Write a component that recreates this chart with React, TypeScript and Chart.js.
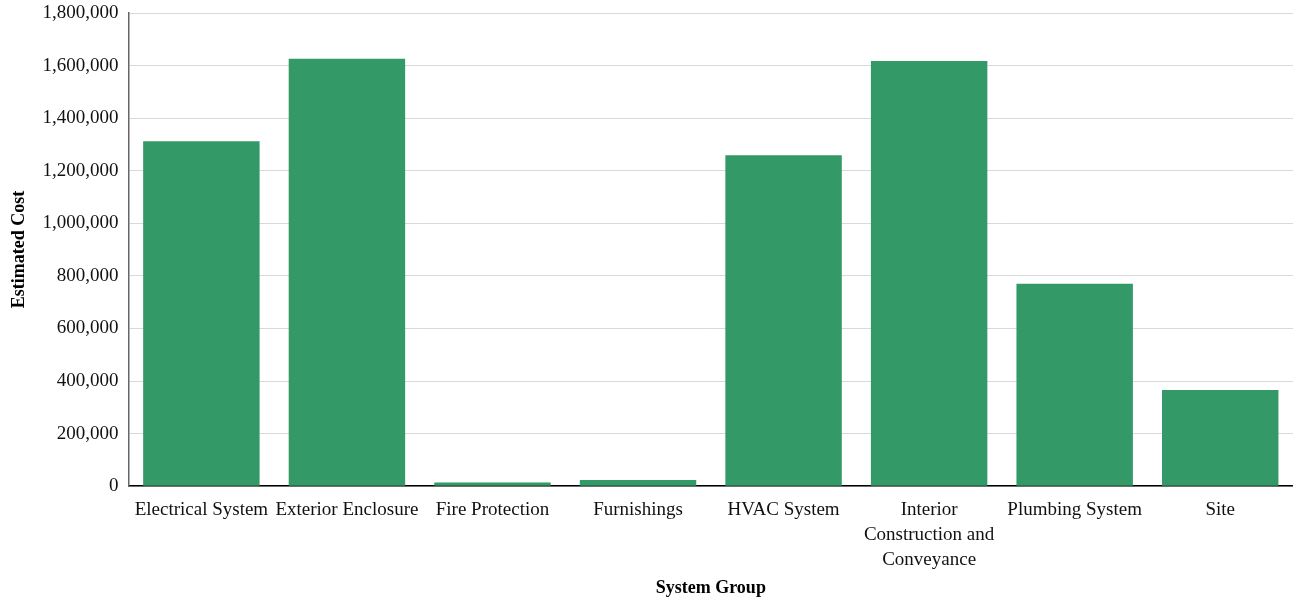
import React, { useEffect, useRef } from "react";
import { Chart, registerables } from "chart.js";

Chart.register(...registerables);

const categories: (string | string[])[] = [
  "Electrical System",
  "Exterior Enclosure",
  "Fire Protection",
  "Furnishings",
  "HVAC System",
  ["Interior", "Construction and", "Conveyance"],
  "Plumbing System",
  "Site",
];
const estimatedCost = [1312000, 1626000, 14000, 23000, 1259000, 1617000, 770000, 366000];
const yMax = 1800000;
const yStep = 200000;

const FONT = "'Liberation Serif', serif";

export default function App() {
  const ref = useRef<HTMLCanvasElement>(null);
  useEffect(() => {
    if (!ref.current) return;
    const chart = new Chart(ref.current, {
      type: "bar",
      data: {
        labels: categories,
        datasets: [
          {
            label: "Estimated Cost",
            data: estimatedCost,
            backgroundColor: "#339966",
            borderWidth: 0,
            barPercentage: 1,
            categoryPercentage: 0.8,
          },
        ],
      },
      options: {
        animation: false,
        responsive: false,
        maintainAspectRatio: false,
        layout: { padding: { top: 13, right: 0, left: 9, bottom: 0 } },
        plugins: { legend: { display: false }, tooltip: { enabled: false } },
        scales: {
          x: {
            grid: { display: false, drawTicks: false },
            border: { color: "#000000", width: 1.5 },
            ticks: {
              color: "#111111",
              font: { family: FONT, size: 19, lineHeight: 1.32 },
              maxRotation: 0,
              autoSkip: false,
              padding: 11,
            },
            title: {
              display: true,
              text: "System Group",
              color: "#000000",
              font: { family: FONT, size: 18, weight: "bold" },
              padding: { top: -6, bottom: 0 },
            },
          },
          y: {
            min: 0,
            max: yMax,
            afterFit: (scale: any) => {
              scale.paddingTop = 0;
            },
            grid: { color: "#d9d9d9", drawTicks: false },
            border: { color: "#666666", width: 1.5 },
            ticks: {
              stepSize: yStep,
              color: "#111111",
              font: { family: FONT, size: 19 },
              padding: 10,
              callback: (v: any) => Number(v).toLocaleString("en-US"),
            },
            title: {
              display: true,
              text: "Estimated Cost",
              color: "#000000",
              font: { family: FONT, size: 18, weight: "bold" },
              padding: { top: 0, bottom: 2 },
            },
          },
        },
      },
    });
    return () => chart.destroy();
  }, []);
  return (
    <div style={{ position: "absolute", left: 0, top: 0, width: 1293, height: 599 }}>
      <canvas ref={ref} width={1293} height={599} style={{ display: "block" }} />
    </div>
  );
}
